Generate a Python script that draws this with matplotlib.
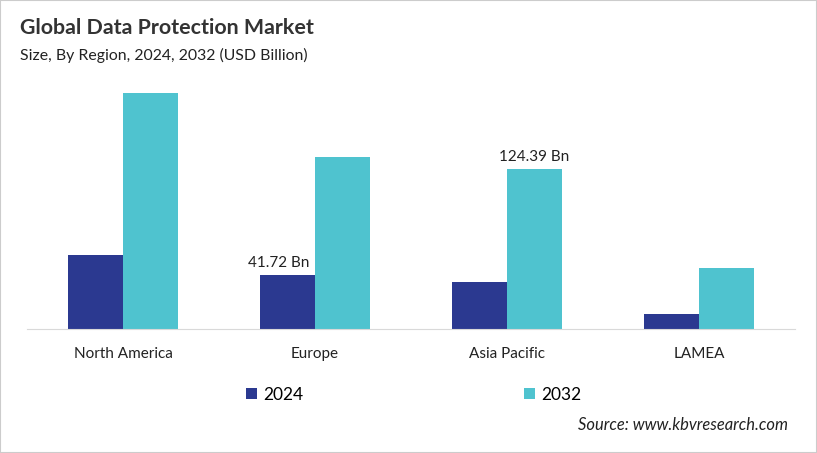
import matplotlib.pyplot as plt
import numpy as np
from matplotlib.patches import Rectangle

# 数据
regions = ['North America', 'Europe', 'Asia Pacific', 'LAMEA']
years = ['2024', '2032']
values_2024 = [57.7, 41.72, 36.3, 11.9]
values_2032 = [184.1, 134.2, 124.39, 47.8]
colors = ['#2B3990', '#4FC3CF']

plt.rcParams['font.family'] = ['Lato', 'DejaVu Sans']

fig = plt.figure(figsize=(8.17, 4.53), dpi=100)
W, H = 817, 453
ax = fig.add_axes([27 / W, (H - 329) / H, (795 - 27) / W, (329 - 80) / H])

x = np.arange(len(regions))
bar_width = 0.286
ax.bar(x - bar_width / 2, values_2024, width=bar_width, color=colors[0], label=years[0])
ax.bar(x + bar_width / 2, values_2032, width=bar_width, color=colors[1], label=years[1])

ax.set_xlim(-0.5, len(regions) - 0.5)
ax.set_ylim(0, 194)
ax.set_xticks(x)
ax.set_xticklabels(regions, fontsize=11, color='#222222')
ax.tick_params(axis='x', length=0, pad=13)
ax.set_yticks([])
for s in ['top', 'right', 'left']:
    ax.spines[s].set_visible(False)
ax.spines['bottom'].set_color('#d9d9d9')

# 数据标签
ax.text(x[1] - bar_width / 2 - 0.045, values_2024[1] + 4, '41.72 Bn', ha='center', va='bottom',
        fontsize=11, color='#222222')
ax.text(x[2] + bar_width / 2, values_2032[2] + 4, '124.39 Bn', ha='center', va='bottom',
        fontsize=11, color='#222222')

# 标题
fig.text(20 / W, 1 - 28 / H, 'Global Data Protection Market', fontsize=15.4, fontweight='bold',
         color='#333333', va='center')
fig.text(20 / W, 1 - 55 / H, 'Size, By Region, 2024, 2032 (USD Billion)', fontsize=11.4,
         color='#222222', va='center')

# 图例
fig.legend(loc='center', bbox_to_anchor=(414 / W, 1 - 395 / H), ncol=2, frameon=False,
           fontsize=12.5, handlelength=0.6, handleheight=0.6, handletextpad=0.4,
           columnspacing=12.7)

fig.text(788 / W, 1 - 425 / H, 'Source: www.kbvresearch.com', fontsize=11.9, style='italic',
         color='#222222', ha='right', va='center')

fig.patches.append(Rectangle((0, 0), 1, 1, transform=fig.transFigure, fill=False,
                             edgecolor='#cccccc', linewidth=1.5))

fig.savefig('out.png', dpi=100)
